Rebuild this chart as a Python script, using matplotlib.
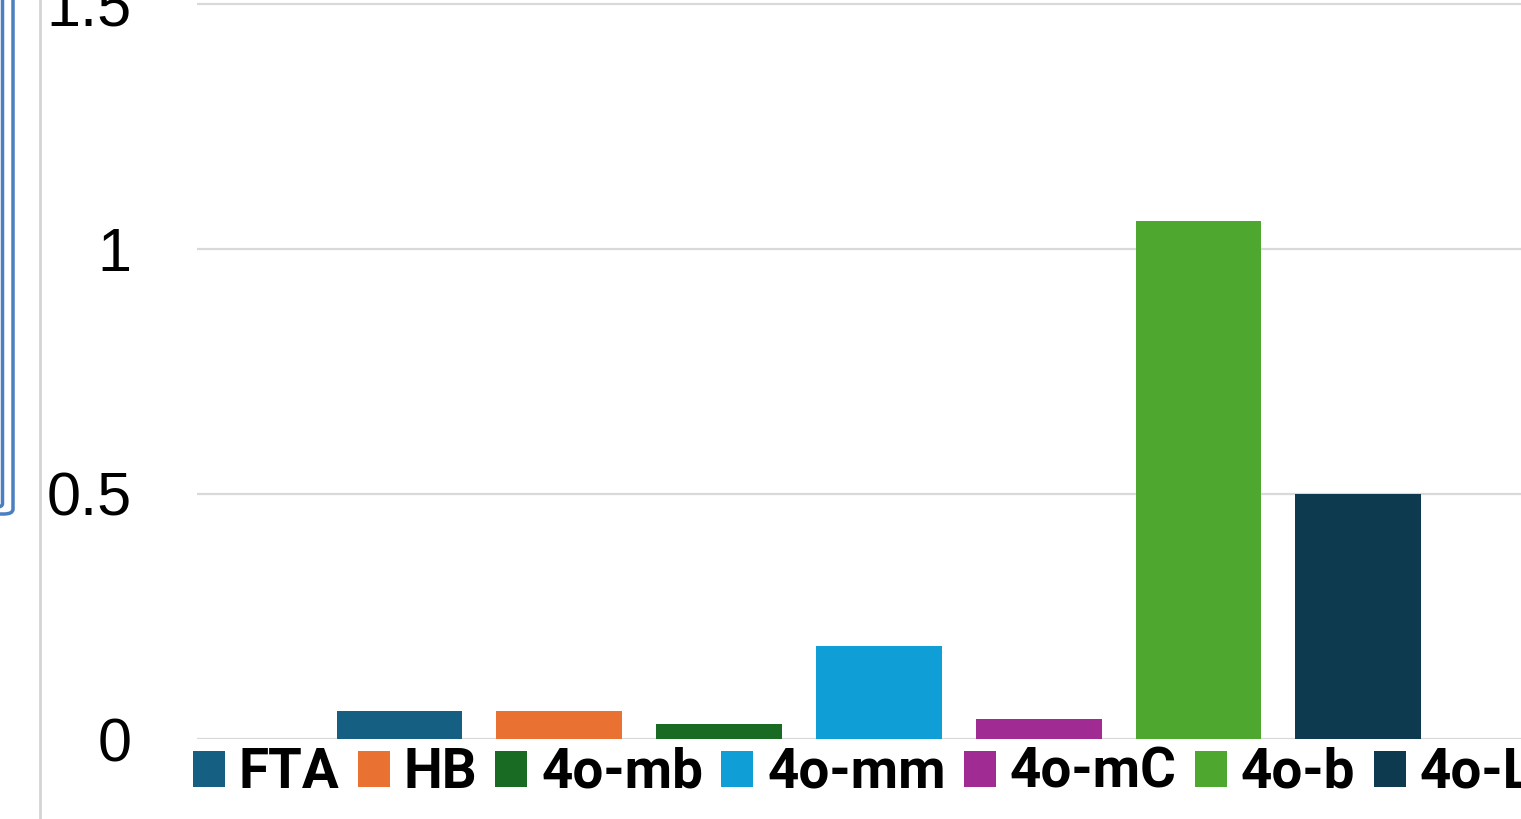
import matplotlib
matplotlib.use("Agg")
import matplotlib.pyplot as plt
from matplotlib.patches import FancyBboxPatch, Patch
from matplotlib.lines import Line2D
from matplotlib import font_manager
from matplotlib.font_manager import FontProperties
from matplotlib.textpath import TextPath

series = ["FTA", "HB", "4o-mb", "4o-mm", "4o-mC", "4o-b", "4o-L"]
values = [0.058, 0.058, 0.030, 0.190, 0.040, 1.056, 0.500]
colors = ["#156082", "#E97132", "#196B24", "#0F9ED5", "#A02B93", "#4EA72E", "#0D3A4E"]
yticks = [0, 0.5, 1, 1.5]
ytick_labels = ["0", "0.5", "1", "1.5"]

W, H = 1521, 819
fig = plt.figure(figsize=(W / 100, H / 100), dpi=100)
fig.patch.set_facecolor("white")

ax = fig.add_axes([197 / W, 80 / H, 1 - 197 / W, 739 / H])
x = list(range(len(series)))
ax.bar(x, values, width=0.787, color=colors, zorder=3)
ax.set_xlim(-1.267, 7.018)
ax.set_ylim(0, 1.5075)
ax.set_yticks(yticks)
ax.set_yticklabels(ytick_labels, fontsize=44, family=["Liberation Sans", "DejaVu Sans"])
ax.tick_params(axis="y", length=0, pad=47)
ax.set_xticks([])
for s in ax.spines.values():
    s.set_visible(False)
ax.grid(axis="y", color="#d9d9d9", linewidth=1.6, zorder=0)
ax.set_axisbelow(True)

# legend font: a narrow-ish bold sans
names = {f.name for f in font_manager.fontManager.ttflist}
if "Liberation Sans Narrow" in names:
    fp = FontProperties(family="Liberation Sans Narrow", weight="bold")
elif "Roboto" in names:
    fp = FontProperties(family="Roboto", weight="bold")
else:
    fp = FontProperties(family="Liberation Sans", weight="bold")

# size the legend font so the text width matches the picture
em_w = TextPath((0, 0), "4o-mm", size=1, prop=fp).get_extents().width
size_px = min(174 / em_w, 60.0)
fp.set_size(size_px * 0.72)

handles = [Patch(facecolor=c, edgecolor="none") for c in colors]
fig.legend(handles, series, loc="center left",
           bbox_to_anchor=(193 / W, (H - 773) / H), ncol=len(series),
           frameon=False, borderpad=0, borderaxespad=0,
           handlelength=32 / size_px, handleheight=35 / size_px,
           handletextpad=14 / size_px, columnspacing=18 / size_px,
           prop=fp)

# decorations from the slide
fig.add_artist(Line2D([40 / W, 40 / W], [0, 1], color="#d4d4d4", lw=2))
blue = "#4a7fc1"
fig.add_artist(FancyBboxPatch((-60 / W, (H - 514) / H), 73 / W, 600 / H,
                              boxstyle="round,pad=0,rounding_size=0.006",
                              transform=fig.transFigure, facecolor="none",
                              edgecolor=blue, lw=2.5))
fig.add_artist(FancyBboxPatch((-60 / W, (H - 507) / H), 62.5 / W, 600 / H,
                              boxstyle="round,pad=0,rounding_size=0.004",
                              transform=fig.transFigure, facecolor="none",
                              edgecolor=blue, lw=2.5))

fig.savefig("out.png", dpi=100)
